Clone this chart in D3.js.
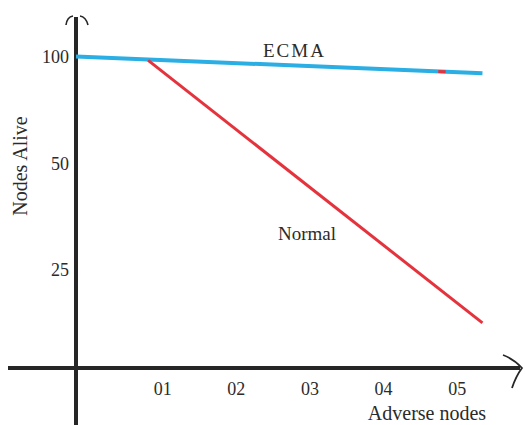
<!DOCTYPE html>
<html>
<head>
<meta charset="utf-8">
<script src="https://cdn.jsdelivr.net/npm/d3@7"></script>
<style>
  body { margin: 0; background: #fff; }
  svg text { font-family: "Liberation Serif", "Times New Roman", serif; fill: #2b2b2b; }
</style>
</head>
<body>
<svg id="chart" width="525" height="425"></svg>
<script>
// x ticks (adverse nodes) and their printed labels
var xTicks = [1, 2, 3, 4, 5];
var xTickLabels = ["01", "02", "03", "04", "05"];
// y ticks (nodes alive) - the drawing is not evenly scaled
var yTicks = [25, 50, 100];
var yBreaks = [0, 25, 50, 100];

var seriesNames = ["ECMA", "Normal"];
var ecmaX = [-0.17, 5.35];
var ecmaY = [100, 92.2];
var normalX = [0.81, 5.35];
var normalY = [98.2, 11.5];
var ecmaMarkX = [4.8];

var svg = d3.select("#chart");

var x = d3.scaleLinear().domain([-0.17, 5.86]).range([76, 520]);
// polylinear, the printed ticks are spaced evenly-ish
var y = d3.scaleLinear().domain(yBreaks).range([368, 270, 164, 56.5]);

var line = d3.line()
  .x(function(d){ return x(d[0]); })
  .y(function(d){ return y(d[1]); });

var ecma = ecmaX.map(function(v, i){ return [v, ecmaY[i]]; });
var normal = normalX.map(function(v, i){ return [v, normalY[i]]; });

// axis lines
var x0 = x.range()[0];
svg.append("line")
  .attr("x1", 8).attr("x2", x.range()[1])
  .attr("y1", y(0)).attr("y2", y(0))
  .attr("stroke", "#262626").attr("stroke-width", 4);
svg.append("line")
  .attr("x1", x0).attr("x2", x0)
  .attr("y1", 17).attr("y2", 425)
  .attr("stroke", "#262626").attr("stroke-width", 4);

// arrow heads
svg.append("path")
  .attr("d", "M66,25 Q67,17 73,16 M80,16 Q86,17 88,25")
  .attr("fill", "none").attr("stroke", "#262626").attr("stroke-width", 1.6);
var xe = x.range()[1], ye = y(0);
svg.append("path")
  .attr("d", "M" + (xe - 17) + "," + (ye - 13) + " Q" + (xe - 6) + "," + (ye - 9) + " " + (xe + 2) + "," + ye +
             " Q" + (xe - 4) + "," + (ye + 8) + " " + (xe - 8) + "," + (ye + 20))
  .attr("fill", "none").attr("stroke", "#262626").attr("stroke-width", 1.8);

// tick labels
var xAxis = d3.axisBottom(x)
  .tickValues(xTicks)
  .tickSize(0)
  .tickPadding(14)
  .tickFormat(function(d, i){ return xTickLabels[i]; });
var gx = svg.append("g").attr("transform", "translate(0," + y(0) + ")").call(xAxis);
gx.select(".domain").remove();
gx.selectAll("text").style("font-size", "18px").attr("fill", "#2b2b2b")
  .style("font-family", "'Liberation Serif', serif");

var yAxis = d3.axisLeft(y).tickValues(yTicks).tickSize(0).tickPadding(7);
var gy = svg.append("g").attr("transform", "translate(" + x0 + ",0)").call(yAxis);
gy.select(".domain").remove();
gy.selectAll("text").style("font-size", "18px").attr("fill", "#2b2b2b")
  .style("font-family", "'Liberation Serif', serif");

// series
svg.append("path").datum(ecma)
  .attr("d", line)
  .attr("fill", "none").attr("stroke", "#2aaee3").attr("stroke-width", 4);
svg.append("path").datum(normal)
  .attr("d", line)
  .attr("fill", "none").attr("stroke", "#e5333d").attr("stroke-width", 3);

var ecmaAt = d3.scaleLinear().domain(ecmaX).range(ecmaY);
svg.selectAll(".mark").data(ecmaMarkX).enter().append("line")
  .attr("x1", function(d){ return x(d - 0.05); })
  .attr("x2", function(d){ return x(d + 0.05); })
  .attr("y1", function(d){ return y(ecmaAt(d - 0.05)); })
  .attr("y2", function(d){ return y(ecmaAt(d + 0.05)); })
  .attr("stroke", "#e5333d").attr("stroke-width", 3);

// series labels
svg.append("text").attr("x", 263).attr("y", 57)
  .style("font-size", "19px").style("letter-spacing", "2px")
  .text(seriesNames[0]);
svg.append("text").attr("x", 278).attr("y", 240)
  .style("font-size", "19px")
  .text(seriesNames[1]);

// axis titles
svg.append("text")
  .attr("transform", "translate(27,166) rotate(-90)")
  .attr("text-anchor", "middle")
  .style("font-size", "20px")
  .text("Nodes Alive");
svg.append("text")
  .attr("x", 427).attr("y", 420)
  .attr("text-anchor", "middle")
  .style("font-size", "20px")
  .text("Adverse nodes");
</script>
</body>
</html>
